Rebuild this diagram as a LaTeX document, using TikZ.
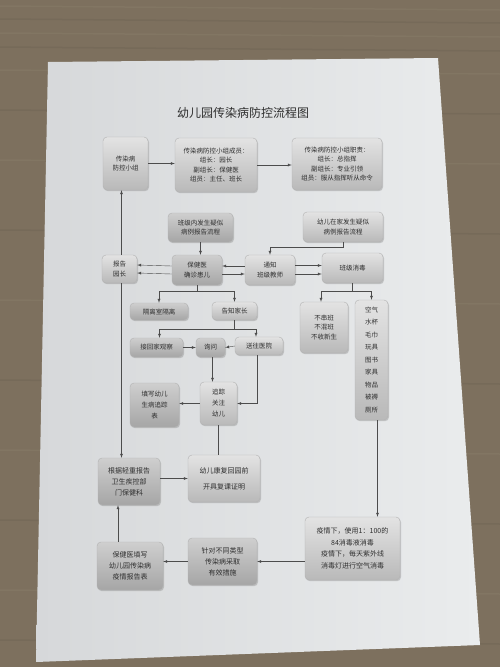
\documentclass[tikz,border=0pt]{standalone}
\usepackage{fontspec}
\newfontfamily\cjk{Noto Sans CJK SC}
\usetikzlibrary{arrows,shadows,positioning,calc}
\definecolor{Wood}{HTML}{7D705E}
\definecolor{WoodDark}{HTML}{675D4E}
\definecolor{WoodLight}{HTML}{8F846F}
\definecolor{Paper}{HTML}{D6D8DA}
\definecolor{PaperLight}{HTML}{EAECED}
\definecolor{Ink}{HTML}{2E2E2E}

\begin{document}
\begin{tikzpicture}
[x=1pt,y=-1pt,
box/.style={draw=gray!60,thin,rounded corners=4pt,top color=gray!22,bottom color=gray!55,
  drop shadow={shadow xshift=1pt,shadow yshift=-1.2pt,opacity=.35},
  font=\cjk\fontsize{6.5}{9.5}\selectfont,text=Ink,align=center,inner sep=1pt},
dark/.style={top color=gray!38,bottom color=gray!70},
link/.style={thin,black!70,>=latex,->},
line/.style={thin,black!70}
]
\useasboundingbox (0,0) rectangle (500,667);
%% table
\fill[Wood] (0,0) rectangle (500,667);
\foreach \y/\c in {6/WoodLight,19/WoodDark,33/WoodLight,47/WoodDark,70/WoodLight,
  110/WoodDark,160/WoodLight,230/WoodDark,300/WoodLight,380/WoodDark,450/WoodLight,
  520/WoodDark,590/WoodLight,640/WoodDark}
  \draw[\c,opacity=.3,line width=1.5pt] (0,\y) -- (500,\y+4);
%% paper
\shade[left color=Paper,right color=PaperLight] (48,62) -- (438,58) -- (480,645) -- (36,662) -- cycle;
\node[font=\cjk\fontsize{12}{14}\selectfont,text=Ink] (title) at (243,113) {幼儿园传染病防控流程图};
%% top row
\node[box,minimum width=45pt,minimum height=53pt] (grp) at (125.5,163.5) {传染病\\防控小组};
\node[box,minimum width=82pt,minimum height=54pt] (mem) at (216,165)
  {传染病防控小组成员：\\组长：园长\\副组长：保健医\\组员：主任、班长};
\node[box,minimum width=90pt,minimum height=52pt] (duty) at (337,164)
  {传染病防控小组职责：\\组长：总指挥\\副组长：专业引领\\组员：服从指挥听从命令};
%% reporting
\node[box,dark,minimum width=65pt,minimum height=29pt] (inClass) at (200.5,227.5) {班级内发生疑似\\病例报告流程};
\node[box,minimum width=80pt,minimum height=30pt] (atHome) at (343,227) {幼儿在家发生疑似\\病例报告流程};
\node[box,minimum width=35pt,minimum height=28pt] (head) at (119.5,269) {报告\\园长};
\node[box,dark,minimum width=50pt,minimum height=30pt] (doctor) at (197,270) {保健医\\确诊患儿};
\node[box,minimum width=50pt,minimum height=30pt] (teacher) at (270,270) {通知\\班级教师};
\node[box,minimum width=61pt,minimum height=30pt] (disinfect) at (352.5,268) {班级消毒};
%% measures
\node[box,dark,minimum width=58pt,minimum height=17pt] (isolate) at (159,311.5) {隔离室隔离};
\node[box,minimum width=45pt,minimum height=18pt] (parents) at (234.5,311) {告知家长};
\node[box,minimum width=48pt,minimum height=51pt] (noMix) at (324,327.5) {不串班\\不混班\\不收新生};
\node[box,minimum width=33pt,minimum height=120pt,font=\cjk\fontsize{6.5}{12.5}\selectfont] (items) at (371.5,360)
  {空气\\水杯\\毛巾\\玩具\\图书\\家具\\物品\\被褥\\厕所};
\node[box,dark,minimum width=53pt,minimum height=19pt] (home) at (156.5,347.5) {接回家观察};
\node[box,dark,minimum width=29pt,minimum height=19pt] (ask) at (210.5,347.5) {询问};
\node[box,minimum width=48pt,minimum height=18pt] (hospital) at (259,346) {送往医院};
\node[box,minimum width=37pt,minimum height=43pt,font=\cjk\fontsize{6.5}{11}\selectfont] (track) at (218.5,403.5) {追踪\\关注\\幼儿};
\node[box,dark,minimum width=49pt,minimum height=44pt,font=\cjk\fontsize{6.5}{11}\selectfont] (form) at (154.5,405) {填写幼儿\\生病追踪\\表};
%% bottom
\node[box,dark,minimum width=62pt,minimum height=47pt,font=\cjk\fontsize{7}{11}\selectfont] (report) at (129,481.5)
  {根据轻重报告\\卫生疾控部\\门保健科};
\node[box,minimum width=72pt,minimum height=47pt,font=\cjk\fontsize{7}{16}\selectfont] (recover) at (224,478.5)
  {幼儿康复回园前\\开具复课证明};
\node[box,minimum width=95pt,minimum height=63pt,font=\cjk\fontsize{7}{11.5}\selectfont] (epidemic) at (352.5,548.5)
  {疫情下，使用1：100的\\84消毒液消毒\\疫情下，每天紫外线\\消毒灯进行空气消毒};
\node[box,dark,minimum width=69pt,minimum height=47pt,font=\cjk\fontsize{7}{11}\selectfont] (measure) at (222.5,561.5)
  {针对不同类型\\传染病采取\\有效措施};
\node[box,dark,minimum width=66pt,minimum height=48pt,font=\cjk\fontsize{7}{11}\selectfont] (fill) at (130,566)
  {保健医填写\\幼儿园传染病\\疫情报告表};
%% connectors, top
\draw[link] (grp.east) -- (grp.east -| mem.west);
\draw[link] (mem.east) -- (mem.east -| duty.west);
\draw[link] (inClass.south) -- (inClass.south |- doctor.north);
\draw[link] (atHome.south) -- ++(0,5) -| (teacher.north);
%% double lines between middle boxes
\draw[link] ([yshift=4pt]doctor.west) -- ([yshift=4pt]head.east);
\draw[link] ([yshift=-4pt]doctor.west) -- ([yshift=-4pt]head.east);
\draw[link] ([yshift=4pt]teacher.west) -- ([yshift=4pt]doctor.east);
\draw[link] ([yshift=-4pt]doctor.east) -- ([yshift=-4pt]teacher.west);
\draw[link] ([yshift=4.5pt]teacher.east) -- ([yshift=4.5pt]teacher.east -| disinfect.west);
\draw[link] ([yshift=-4pt]teacher.east) -- ([yshift=-4pt]teacher.east -| disinfect.west);
%% forks
\draw[link] (doctor.south) -- ++(0,6) -| (isolate.north);
\draw[link] (doctor.south) ++(0,6) -| (parents.north);
\draw[link] (disinfect.south) -- ++(0,8) -| ([xshift=-3pt]noMix.north);
\draw[link] (disinfect.south) ++(0,8) -| (items.north);
\draw[link] (parents.south) -- ++(0,9) -| ([xshift=3pt]home.north);
\draw[link] (parents.south) ++(0,9) -| ([xshift=-3pt]hospital.north);
\draw[link] (home.east) -- (ask.west);
\draw[link] (hospital.west) -- (ask.east);
\draw[link] ([xshift=2pt]ask.south) -- ([xshift=2pt]ask.south |- track.north);
\draw[link] ([xshift=-2pt]hospital.south) |- (track.east);
\draw[link] (track.west) -- (track.west -| form.east);
\draw[line] (track.south) -- (track.south |- recover.north);
%% left column
\draw[link] ([xshift=2pt]head.north) -- ([xshift=2pt]head.north |- grp.south);
\draw[link] ([xshift=2pt]head.south) -- ([xshift=2pt]head.south |- report.north);
\draw[link] (report.east |- recover.west) -- (recover.west);
%% right column and bottom row
\draw[link] ([xshift=6pt]items.south) -- ([xshift=6pt]items.south |- epidemic.north);
\draw[link] (measure.east -| epidemic.west) -- (measure.east);
\draw[link] (measure.west) -- (measure.west -| fill.east);
\draw[link] ([xshift=-12pt]fill.north) -- ([xshift=-12pt]fill.north |- report.south);
\end{tikzpicture}
\end{document}
